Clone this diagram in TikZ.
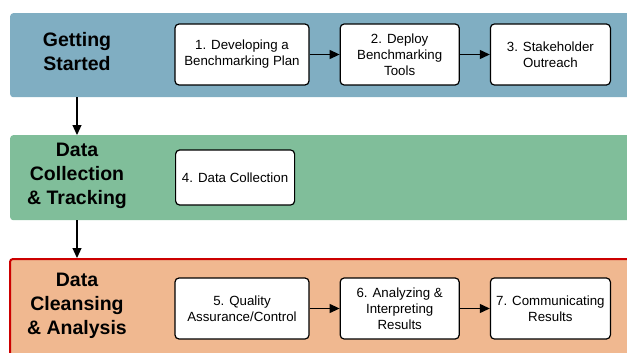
\documentclass[tikz,border=0pt]{standalone}
\usepackage{fontspec}
\setmainfont{Liberation Sans}
\usetikzlibrary{positioning, arrows.meta}
\definecolor{startblue}{HTML}{80AEC2}
\definecolor{collectgreen}{HTML}{80BE9A}
\definecolor{cleanorange}{HTML}{F0B890}
\definecolor{cleanred}{HTML}{CC0000}

\begin{document}
\begin{tikzpicture}[
    x=1pt, y=-1pt,
    node distance=30pt,
    >={Triangle[length=10pt,width=9pt]},
    band/.style={rectangle, rounded corners=3pt, minimum width=640pt, anchor=north west, inner sep=0pt},
    phase/.style={font=\bfseries\fontsize{19.5}{24}\selectfont, align=center},
    task/.style={draw, line width=1.2pt, rounded corners=4pt, fill=white, align=center,
        font=\fontsize{13.3}{16}\selectfont, minimum height=61pt, inner sep=1pt}
]
    \clip (0,0) rectangle (627,353);
    % three phase bands, top to bottom
    \node[band, fill=startblue, minimum height=84pt] (band1) at (10,13) {};
    \node[band, fill=collectgreen, minimum height=85pt] (band2) at (10,135) {};
    \node[band, fill=cleanorange, draw=cleanred, line width=2pt, minimum height=120pt] (band3) at (9,258) {};

    % phase titles
    \node[phase] (getting) at (77,52) {Getting\\Started};
    \node[phase] (collecting) at (77,176) {Data\\Collection\\\& Tracking};
    \node[phase] (cleansing) at (77,306) {Data\\Cleansing\\\& Analysis};

    \draw[->, line width=1.2pt] (getting |- band1.south) -- (getting |- band2.north);
    \draw[->, line width=1.2pt] (getting |- band2.south) -- (getting |- band3.north);

    % steps
    \node[task, minimum width=134pt] (plan) at (242,54.5) {1. Developing a\\Benchmarking Plan};
    \node[task, minimum width=119pt, right=30pt of plan] (deploy) {2. Deploy\\Benchmarking\\Tools};
    \node[task, minimum width=120pt, right=30pt of deploy] (outreach) {3. Stakeholder\\Outreach};

    \node[task, minimum width=119pt, minimum height=55pt, anchor=west] (collection) at (175,177.5) {4. Data Collection};

    \node[task, minimum width=134pt] (quality) at (242,308.5) {5. Quality\\Assurance/Control};
    \node[task, minimum width=119pt, right=30pt of quality] (analyze) {6. Analyzing \&\\Interpreting\\Results};
    \node[task, minimum width=120pt, right=30pt of analyze] (communicate) {7. Communicating\\Results};

    \path[->, line width=1.2pt]
        (plan) edge (deploy)
        (deploy) edge (outreach)
        (quality) edge (analyze)
        (analyze) edge (communicate);
\end{tikzpicture}
\end{document}
